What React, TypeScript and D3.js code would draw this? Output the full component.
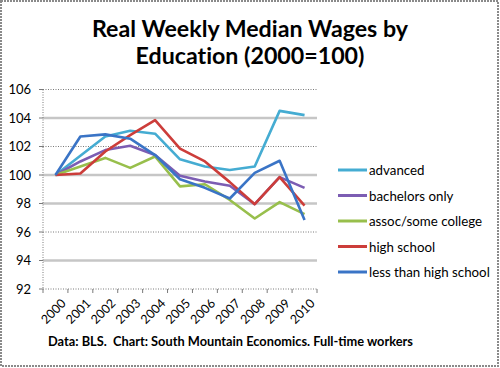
import { useEffect, useRef } from 'react'
import * as d3 from 'd3'

const years = ['2000', '2001', '2002', '2003', '2004', '2005', '2006', '2007', '2008', '2009', '2010']

const advanced = [100, 101.35, 102.7, 103.1, 102.9, 101.1, 100.6, 100.35, 100.6, 104.5, 104.2]
const bachelorsOnly = [100, 100.95, 101.75, 102.05, 101.4, 99.95, 99.55, 99.25, 97.95, 99.85, 99.1]
const assocSomeCollege = [100, 100.6, 101.2, 100.5, 101.3, 99.2, 99.35, 98.25, 96.95, 98.1, 97.25]
const highSchool = [100, 100.1, 101.65, 102.8, 103.85, 101.85, 100.95, 99.5, 97.95, 99.85, 97.85]
const lessThanHighSchool = [100, 102.7, 102.85, 102.55, 101.4, 99.7, 99.1, 98.35, 100.15, 101.0, 96.85]

const seriesNames = ['advanced', 'bachelors only', 'assoc/some college', 'high school', 'less than high school']
const seriesValues = [advanced, bachelorsOnly, assocSomeCollege, highSchool, lessThanHighSchool]
const seriesColors = ['#45acd2', '#7c5db3', '#98bf4c', '#cc3d3a', '#3a74c6']

const yTicks = [92, 94, 96, 98, 100, 102, 104, 106]
// the picture shows these gridlines as solid light grey bars, the rest as thin dotted lines
const solidGrid = [94, 98, 100, 104]

const App = () => {
  const ref = useRef<SVGSVGElement>(null)

  useEffect(() => {
    const svg = d3.select(ref.current)
    svg.selectAll('*').remove()

    const font = 'Lato, "Open Sans", sans-serif'
    const left = 43, right = 317, top = 89.5, bottom = 289

    const x = d3.scaleBand().domain(years).range([left, right])
    const y = d3.scaleLinear().domain([92, 106]).range([bottom, top])

    // outer frame
    svg.append('rect')
       .attr('x', 1).attr('y', 1).attr('width', 497).attr('height', 365)
       .attr('fill', '#fff')
       .attr('stroke', '#8a8a8a').attr('stroke-width', 2).attr('stroke-dasharray', '2,1')

    // title
    const title = svg.append('text')
       .attr('x', 250).attr('text-anchor', 'middle')
       .attr('font-family', font).attr('font-weight', 'bold').attr('font-size', 23.2)
       .attr('fill', '#000')
       .style('font-variant-ligatures', 'none')
    title.append('tspan').attr('x', 250).attr('y', 36.5).text('Real Weekly Median Wages by')
    title.append('tspan').attr('x', 250).attr('y', 64).text('Education (2000=100)')

    // gridlines
    svg.append('g')
       .selectAll('line')
       .data(yTicks.filter(d => d > 92))
       .join('line')
       .attr('x1', left).attr('x2', right)
       .attr('y1', d => y(d)).attr('y2', d => y(d))
       .attr('stroke', d => solidGrid.includes(d) ? '#c6c6c6' : '#7a7a7a')
       .attr('stroke-width', d => solidGrid.includes(d) ? 2.5 : 1)
       .attr('stroke-dasharray', d => solidGrid.includes(d) ? null : '1,1.5')

    // y axis
    const yAxis = svg.append('g')
    yAxis.append('line')
         .attr('x1', left).attr('x2', left).attr('y1', top).attr('y2', bottom)
         .attr('stroke', '#7a7a7a').attr('stroke-dasharray', '1,1.5')
    yAxis.selectAll('line.tick')
         .data(yTicks)
         .join('line')
         .attr('class', 'tick')
         .attr('x1', left - 4).attr('x2', left)
         .attr('y1', d => y(d)).attr('y2', d => y(d))
         .attr('stroke', '#7a7a7a')
    yAxis.selectAll('text')
         .data(yTicks)
         .join('text')
         .attr('x', 31).attr('y', d => y(d) + 4.5)
         .attr('text-anchor', 'end')
         .attr('font-family', font).attr('font-size', 13).attr('fill', '#000')
         .text(d => d)

    // x axis
    const xAxis = svg.append('g')
    xAxis.append('line')
         .attr('x1', left).attr('x2', right).attr('y1', bottom).attr('y2', bottom)
         .attr('stroke', '#7a7a7a').attr('stroke-dasharray', '1,1.5')
    const bounds = years.map(d => x(d)!).concat([right])
    xAxis.selectAll('line.tick')
         .data(bounds)
         .join('line')
         .attr('class', 'tick')
         .attr('x1', d => d).attr('x2', d => d)
         .attr('y1', bottom).attr('y2', bottom + 4)
         .attr('stroke', '#7a7a7a')
    xAxis.selectAll('text')
         .data(years)
         .join('text')
         .attr('transform', d => `translate(${x(d)! + x.bandwidth() / 2 + 5},${bottom + 9}) rotate(-45)`)
         .attr('text-anchor', 'end')
         .attr('dy', '0.7em')
         .attr('font-family', font).attr('font-size', 12.5).attr('fill', '#000')
         .text(d => d)

    // series lines
    const line = d3.line<number>()
                   .x((d, i) => x(years[i])! + x.bandwidth() / 2)
                   .y(d => y(d))

    svg.append('g')
       .selectAll('path')
       .data(seriesValues)
       .join('path')
       .attr('d', d => line(d))
       .attr('fill', 'none')
       .attr('stroke', (d, i) => seriesColors[i])
       .attr('stroke-width', 2.6)
       .attr('stroke-linejoin', 'round')

    // legend
    const legend = svg.append('g')
                      .selectAll('g')
                      .data(seriesNames)
                      .join('g')
                      .attr('transform', (d, i) => `translate(338,${170 + i * 25.5})`)
    legend.append('line')
          .attr('x1', 0).attr('x2', 29).attr('y1', 0).attr('y2', 0)
          .attr('stroke', (d, i) => seriesColors[i]).attr('stroke-width', 3)
    legend.append('text')
          .attr('x', 31).attr('y', 5)
          .attr('font-family', font).attr('font-size', 13.3).attr('fill', '#000')
          .text(d => d)

    // footer
    svg.append('text')
       .attr('x', 48).attr('y', 346)
       .attr('font-family', font).attr('font-weight', 'bold').attr('font-size', 12.8)
       .attr('fill', '#000')
       .attr('xml:space', 'preserve')
       .text('Data: BLS.  Chart: South Mountain Economics. Full-time workers')
  }, [])

  return <svg ref={ref} width={500} height={368} style={{ position: 'absolute', left: 0, top: 0 }}></svg>
}

export default App
